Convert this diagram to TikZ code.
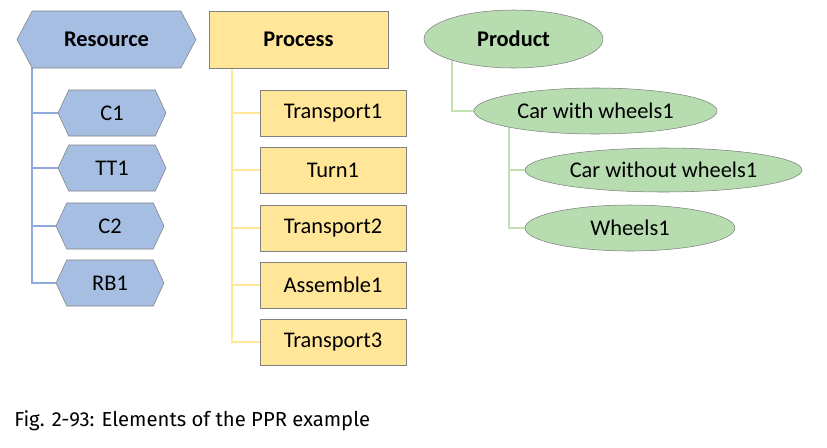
\documentclass[tikz,border=0pt]{standalone}
\usepackage{fontspec}
\setmainfont{Carlito}
\newfontfamily\capfont{Fira Sans}
\usetikzlibrary{shapes.symbols,shapes.geometric,backgrounds}

\definecolor{resfill}{HTML}{A6BEE2}
\definecolor{resline}{HTML}{8FAADC}
\definecolor{procfill}{HTML}{FFE699}
\definecolor{procline}{HTML}{FFE699}
\definecolor{prodfill}{HTML}{B6DCB0}
\definecolor{prodline}{HTML}{C5E0B4}
\definecolor{rim}{HTML}{808080}

\begin{document}
\begin{tikzpicture}[x=0.75pt, y=-0.75pt,
    every node/.style={font=\fontsize{16.8}{20}\selectfont, inner sep=0pt},
    reshex/.style={signal, signal to=east and west, signal pointer angle=130,
        draw=rim, fill=resfill, minimum width=81pt, minimum height=34.5pt},
    reshead/.style={reshex, signal pointer angle=124, minimum width=134.25pt,
        minimum height=42.75pt, font=\fontsize{16.8}{20}\selectfont\bfseries},
    procbox/.style={rectangle, draw=rim, fill=procfill, minimum width=109.5pt,
        minimum height=34.5pt},
    prodell/.style={ellipse, draw=rim, fill=prodfill, minimum height=34.5pt},
    tree/.style={line width=1.9pt}]
    \useasboundingbox (0,0) rectangle (827,447);

    % ==== RESOURCE ====
    \node[reshead] (res) at (106.5,39.5) {Resource};
    \node[reshex] (c1) at (112,113) {C1};
    \node[reshex] (tt1) at (112,168) {TT1};
    \node[reshex] (c2) at (110,226) {C2};
    \node[reshex] (rb1) at (110,283) {RB1};
    \coordinate (restrunk) at (32,68);

    % ==== PROCESS ====
    \node[procbox, draw=rim, minimum width=134.25pt, minimum height=42.75pt,
        font=\fontsize{16.8}{20}\selectfont\bfseries] (proc) at (298.5,39.5) {Process};
    \node[procbox] (tp1) at (333,113) {Transport1};
    \node[procbox] (turn1) at (333,170) {Turn1};
    \node[procbox] (tp2) at (333,228) {Transport2};
    \node[procbox] (asm1) at (333,285) {Assemble1};
    \node[procbox] (tp3) at (333,342) {Transport3};
    \coordinate (proctrunk) at (232,68);

    % ==== PRODUCT ====
    \node[prodell, minimum width=134.25pt, minimum height=43.5pt,
        font=\fontsize{16.8}{20}\selectfont\bfseries] (prod) at (513.5,39) {Product};
    \node[prodell, minimum width=182.25pt] (cww) at (595.5,111) {Car with wheels1};
    \node[prodell, minimum width=207.75pt, minimum height=33pt] (cwo) at (663.5,170) {Car without wheels1};
    \node[prodell, minimum width=157.5pt] (wh1) at (630,228) {Wheels1};
    \coordinate (prodtrunk) at (452,39);
    \coordinate (cwwtrunk) at (509,111);

    % ==== TREE LINES ====
    \begin{scope}[on background layer]
        \draw[tree, resline] (restrunk) |- (rb1.west);
        \foreach \n in {c1,tt1,c2}
            \draw[tree, resline] (\n.west) -- (\n.west -| restrunk);
        \draw[tree, procline] (proctrunk) |- (tp3.west);
        \foreach \n in {tp1,turn1,tp2,asm1}
            \draw[tree, procline] (\n.west) -- (\n.west -| proctrunk);
        \draw[tree, prodline] (prodtrunk) |- (cww.west);
        \draw[tree, prodline] (cwwtrunk) |- (wh1.west);
        \draw[tree, prodline] (cwo.west) -- (cwo.west -| cwwtrunk);
    \end{scope}

    % ==== Caption ====
    \node[anchor=base west, font=\capfont\fontsize{15.2}{18}\selectfont] (cap) at (14,426)
        {Fig. 2-93: Elements of the PPR example};
\end{tikzpicture}
\end{document}
